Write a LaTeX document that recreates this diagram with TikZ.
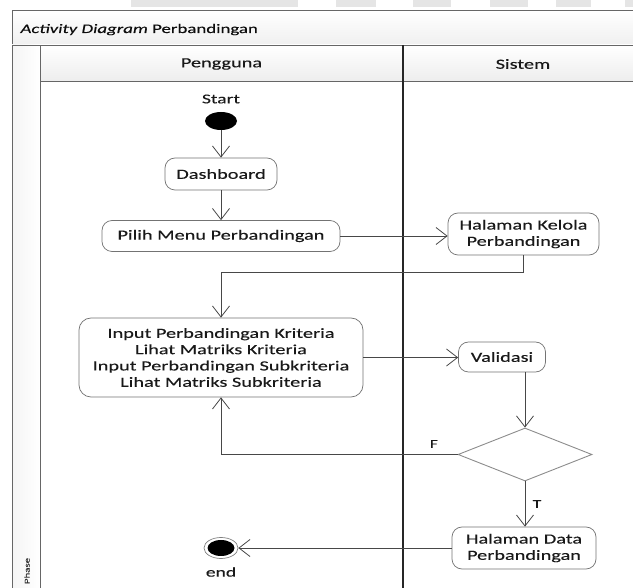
\documentclass[tikz,border=0pt]{standalone}
\usepackage{fontspec}
\setmainfont{Carlito}
\newfontfamily\diafont[FakeStretch=1.45,FakeBold=0.2]{Carlito}
\usetikzlibrary{shapes.geometric,arrows.meta,calc}

\begin{document}
\begin{tikzpicture}[x=1pt,y=-1pt,
  act/.style={draw=black!55, line width=0.7pt, rounded corners=10pt, fill=white,
    align=center, font=\diafont\fontsize{14}{16.3}\selectfont, text=black!90, inner sep=0pt},
  flow/.style={draw=black!72, line width=0.8pt, -{Straight Barb[length=11pt,width=17pt]}},
  lbl/.style={font=\diafont\fontsize{14}{16}\selectfont, text=black!90},
  small/.style={lbl, font=\diafont\fontsize{12}{14}\selectfont},
  frame/.style={draw=black!60, line width=0.8pt},
  tab/.style={fill=gray!20!white}
]
\useasboundingbox (0,0) rectangle (633,588);
\clip (0,0) rectangle (633,588);

% tabs along the upper edge
\foreach \a/\b in {131/298,336/376,413/451,490/528,556/591,625/640}
  \fill[tab] (\a,0) rectangle (\b,7.5);

% frame: title bar, phase column, lane headers
\shade[top color=white, bottom color=gray!12] (12,10) rectangle (645,45);
\draw[frame] (12,10) rectangle (645,45);
\node[anchor=base west, font=\diafont\fontsize{13}{15}\selectfont, text=black!95]
  (title) at (17,33) {\textit{Activity Diagram} Perbandingan};

\shade[left color=gray!8, right color=white] (12,45) rectangle (40,600);
\draw[frame] (12,45) rectangle (40,600);
\node[rotate=90, font=\diafont\fontsize{7.5}{8}\selectfont, text=black!80] (phase) at (27,571) {Phase};

\shade[top color=white, bottom color=gray!14] (40,45) rectangle (645,81);
\draw[frame] (40,45) rectangle (645,81);
\draw[black!85, line width=1.2pt] (403,45) -- (403,600);
\node[lbl] (lane1) at (221.5,64) {Pengguna};
\node[lbl] (lane2) at (523,64) {Sistem};

% activity nodes
\node[lbl, font=\diafont\fontsize{13.5}{16}\selectfont] (startlbl) at (221,99) {Start};
\node[ellipse, fill=black, minimum width=32pt, minimum height=18pt, inner sep=0pt] (start) at (221,121) {};
\node[act, minimum width=112pt, minimum height=32pt] (dash) at (221,174) {Dashboard};
\node[act, minimum width=238pt, minimum height=31pt] (pilih) at (221,236) {Pilih Menu Perbandingan};
\node[act, minimum width=151pt, minimum height=42pt] (kelola) at (523.5,234) {Halaman Kelola\\Perbandingan};
\node[act, minimum width=284pt, minimum height=79pt, rounded corners=12pt] (input) at (221,357.5)
  {Input Perbandingan Kriteria\\Lihat Matriks Kriteria\\Input Perbandingan Subkriteria\\Lihat Matriks Subkriteria};
\node[act, minimum width=87pt, minimum height=30pt] (valid) at (502,357) {Validasi};
\node[diamond, draw=black!45, line width=0.9pt, fill=white, minimum width=134pt, minimum height=53pt, inner sep=0pt] (dec) at (525,454.5) {};
\node[act, minimum width=144pt, minimum height=42pt] (data) at (524,548) {Halaman Data\\Perbandingan};
\node[ellipse, draw=black!50, line width=0.7pt, fill=white, minimum width=34pt, minimum height=21pt, inner sep=0pt] (end) at (221,548) {};
\fill[black] (end.center) ellipse (13.5 and 8);
\node[lbl, font=\diafont\fontsize{13.5}{16}\selectfont] (endlbl) at (221,572) {end};

% connectors
\draw[flow] (start) -- (dash);
\draw[flow] (dash) -- (pilih);
\draw[flow] (pilih.east) -- (pilih.east -| kelola.west);
\draw[flow] (kelola.south) -- ++(0,17) -| (input.north);
\draw[flow] (input.east) -- (input.east -| valid.west);
\draw[flow] (valid.south -| dec.north) -- (dec.north);
\draw[flow] (dec.west) -| node[pos=0.05, above=3pt, small] (flbl) {F} (input.south);
\draw[flow] (dec.south) -- node[right=4pt, small] (tlbl) {T} (dec.south |- data.north);
\draw[flow] (data.west) -- (end.east);
\end{tikzpicture}
\end{document}
